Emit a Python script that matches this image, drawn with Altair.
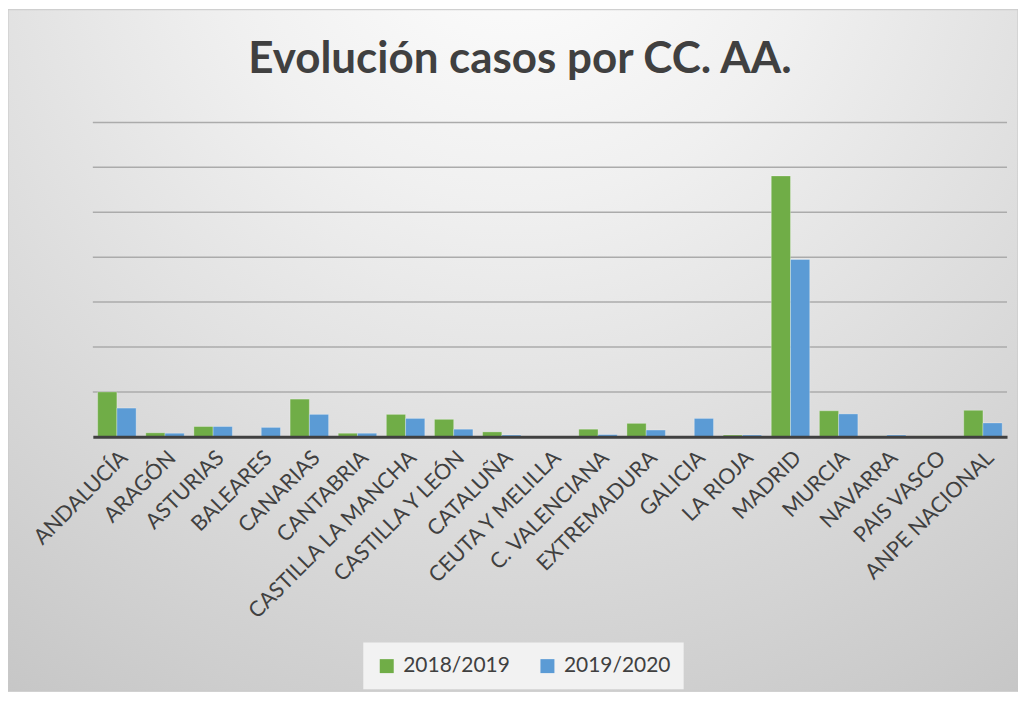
import altair as alt
import pandas as pd

categorias = ["ANDALUCÍA", "ARAGÓN", "ASTURIAS", "BALEARES", "CANARIAS", "CANTABRIA",
              "CASTILLA LA MANCHA", "CASTILLA Y LEÓN", "CATALUÑA", "CEUTA Y MELILLA",
              "C. VALENCIANA", "EXTREMADURA", "GALICIA", "LA RIOJA", "MADRID", "MURCIA",
              "NAVARRA", "PAIS VASCO", "ANPE NACIONAL"]
serie_2018_2019 = [10.0, 0.9, 2.3, 0.0, 8.4, 0.8, 5.0, 3.9, 1.1, 0.0,
                   1.7, 3.0, 0.0, 0.4, 58.1, 5.8, 0.2, 0.2, 5.9]
serie_2019_2020 = [6.4, 0.8, 2.3, 2.1, 5.0, 0.8, 4.1, 1.7, 0.4, 0.0,
                   0.5, 1.5, 4.1, 0.4, 39.5, 5.1, 0.4, 0.0, 3.1]
series = ["2018/2019", "2019/2020"]
colores = ["#70AD47", "#5B9BD5"]
lineas_guia = [10, 20, 30, 40, 50, 60, 70]

rows = []
for i, c in enumerate(categorias):
    rows.append({"cat": c, "serie": series[0], "valor": serie_2018_2019[i]})
    rows.append({"cat": c, "serie": series[1], "valor": serie_2019_2020[i]})
df = pd.DataFrame(rows)

W, H = 916, 315
PL, PT, PR, PB = 85, 114, 11, 256
FONT = "Lato"
TXT = "#404040"

yscale = alt.Scale(domain=[0, 70], nice=False)

bg = alt.Chart(alt.Data(values=[{"a": 1}])).mark_rect(
    color=alt.RadialGradient(
        gradient="radial",
        stops=[alt.GradientStop(color="#ffffff", offset=0),
               alt.GradientStop(color="#f0f0f0", offset=0.3),
               alt.GradientStop(color="#c2c2c2", offset=1)],
        x1=0.5, y1=0.05, r1=0, x2=0.5, y2=0.05, r2=1.0),
    stroke="#c8c8c8", strokeWidth=1
).encode(
    x=alt.value(-PL), x2=alt.value(W + PR),
    y=alt.value(-PT + 1), y2=alt.value(H + PB - 1)
)

grid = alt.Chart(pd.DataFrame({"v": lineas_guia})).mark_rule(
    color="#ababab", strokeWidth=1.5
).encode(y=alt.Y("v:Q", scale=yscale, axis=None))

bars = alt.Chart(df).mark_bar(stroke="#ffffff", strokeWidth=0.5, strokeOpacity=0.6).encode(
    x=alt.X("cat:N", sort=categorias,
            scale=alt.Scale(paddingInner=0.2, paddingOuter=0.1),
            axis=alt.Axis(title=None, labelAngle=-45, labelFont=FONT, labelFontSize=21.5,
                          labelColor=TXT, ticks=False, domainColor=TXT, domainWidth=3,
                          labelPadding=10, labelLimit=0, zindex=2, grid=False)),
    xOffset=alt.XOffset("serie:N", sort=series),
    y=alt.Y("valor:Q", scale=yscale, axis=None),
    color=alt.Color("serie:N", sort=series,
                    scale=alt.Scale(domain=series, range=colores),
                    legend=alt.Legend(title=None, orient="none", legendX=271, legendY=521,
                                      direction="horizontal", symbolType="square",
                                      symbolSize=196, symbolStrokeWidth=0,
                                      labelFont=FONT, labelFontSize=21, labelColor=TXT,
                                      columnPadding=27, labelOffset=6,
                                      fillColor="#f2f2f2", padding=13, zindex=2)),
)

chart = alt.layer(bg, grid, bars).properties(
    width=W, height=H,
    autosize=alt.AutoSizeParams(type="none"),
    padding={"left": PL, "top": PT, "right": PR, "bottom": PB},
    background="white",
    title=alt.TitleParams("Evolución casos por CC. AA.", font=FONT, fontSize=44,
                          fontWeight="bold", color=TXT, anchor="middle", dx=-30,
                          offset=-73, zindex=2),
).configure_view(stroke=None)

chart.save("out.html", embed_options={"renderer": "svg", "actions": False})
